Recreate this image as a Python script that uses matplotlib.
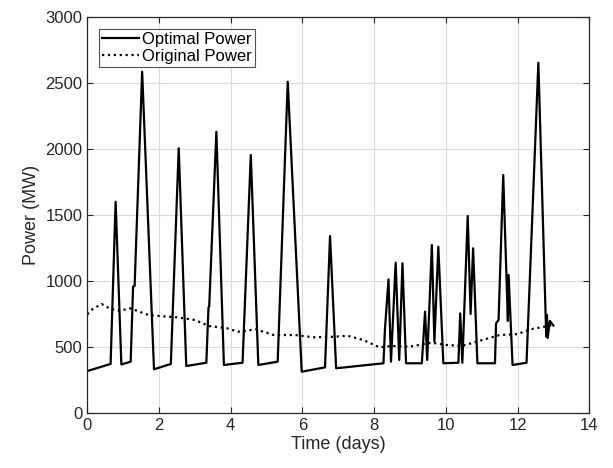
import matplotlib
matplotlib.use("Agg")
import matplotlib.pyplot as plt

# Optimal power (MW) vs time (days)
opt_t = [0.0, 0.65, 0.79, 0.95, 1.21, 1.277, 1.32, 1.53, 1.86,
         2.33, 2.55, 2.76, 3.32, 3.38, 3.40, 3.60, 3.81,
         4.33, 4.56, 4.77, 5.31, 5.59, 5.98, 6.63, 6.77, 6.94,
         8.26, 8.30, 8.40, 8.47, 8.60, 8.70, 8.79, 8.89,
         9.33, 9.42, 9.48, 9.61, 9.68, 9.79, 9.93,
         10.35, 10.40, 10.46, 10.61, 10.69, 10.76, 10.88,
         11.37, 11.40, 11.47, 11.60, 11.73, 11.75, 11.86,
         12.25, 12.58, 12.80, 12.82, 12.84, 12.90, 13.0]
opt_p = [320, 374, 1603, 370, 391, 959, 965, 2588, 333,
         374, 2008, 358, 383, 800, 810, 2133, 366,
         383, 1957, 366, 391, 2512, 315, 348, 1343, 341,
         379, 631, 1015, 391, 1141, 404, 1136, 379,
         379, 770, 404, 1275, 542, 1262, 379,
         383, 757, 383, 1495, 752, 1250, 379,
         379, 682, 707, 1805, 700, 1048, 366,
         383, 2656, 580, 745, 570, 700, 665]

# Original power (MW) vs time (days)
orig_t = [0.0, 0.15, 0.40, 0.65, 0.90, 1.20, 1.45, 1.70, 2.10, 2.50, 3.00,
          3.40, 3.90, 4.20, 4.70, 5.20, 5.80, 6.30, 6.90, 7.25, 7.70, 8.15,
          8.50, 9.00, 9.60, 10.00, 10.45, 10.85, 11.50, 12.00, 12.35, 13.00]
orig_p = [750, 790, 828, 790, 777, 795, 770, 745, 735, 727, 707,
          661, 644, 618, 636, 593, 593, 576, 580, 588, 555, 500,
          510, 505, 535, 518, 510, 542, 593, 600, 636, 669]

plt.rcParams.update({
    "font.family": ["Liberation Sans", "DejaVu Sans"],
    "font.size": 11,
})

fig = plt.figure(figsize=(6.13, 4.68), dpi=100)
ax = fig.add_axes([0.1424, 0.1169, 0.8189, 0.8461])

ax.plot(opt_t, opt_p, color="black", linewidth=1.6, label="Optimal Power")
ax.plot(orig_t, orig_p, color="black", linewidth=1.6, linestyle=":",
        label="Original Power")

ax.set_xlim(0, 14)
ax.set_ylim(0, 3000)
ax.set_xticks(range(0, 15, 2))
ax.set_yticks(range(0, 3001, 500))
ax.grid(True, color="#dcdcdc", linewidth=0.8)
ax.set_axisbelow(True)
ax.tick_params(direction="in", top=True, right=True, length=4,
               color="#262626", labelcolor="#262626", labelsize=12)
for s in ax.spines.values():
    s.set_color("#262626")
    s.set_linewidth(0.9)

ax.set_xlabel("Time (days)", fontsize=13, color="#262626", labelpad=2)
ax.set_ylabel("Power (MW)", fontsize=13, color="#262626", labelpad=4)

leg = ax.legend(loc="upper left", fontsize=12, frameon=True, fancybox=False,
                edgecolor="#262626", handlelength=2.2, handletextpad=0.2,
                borderpad=0.2, labelspacing=0.1, borderaxespad=0.7)
leg.get_frame().set_linewidth(0.8)

fig.savefig("out.png", dpi=100)
